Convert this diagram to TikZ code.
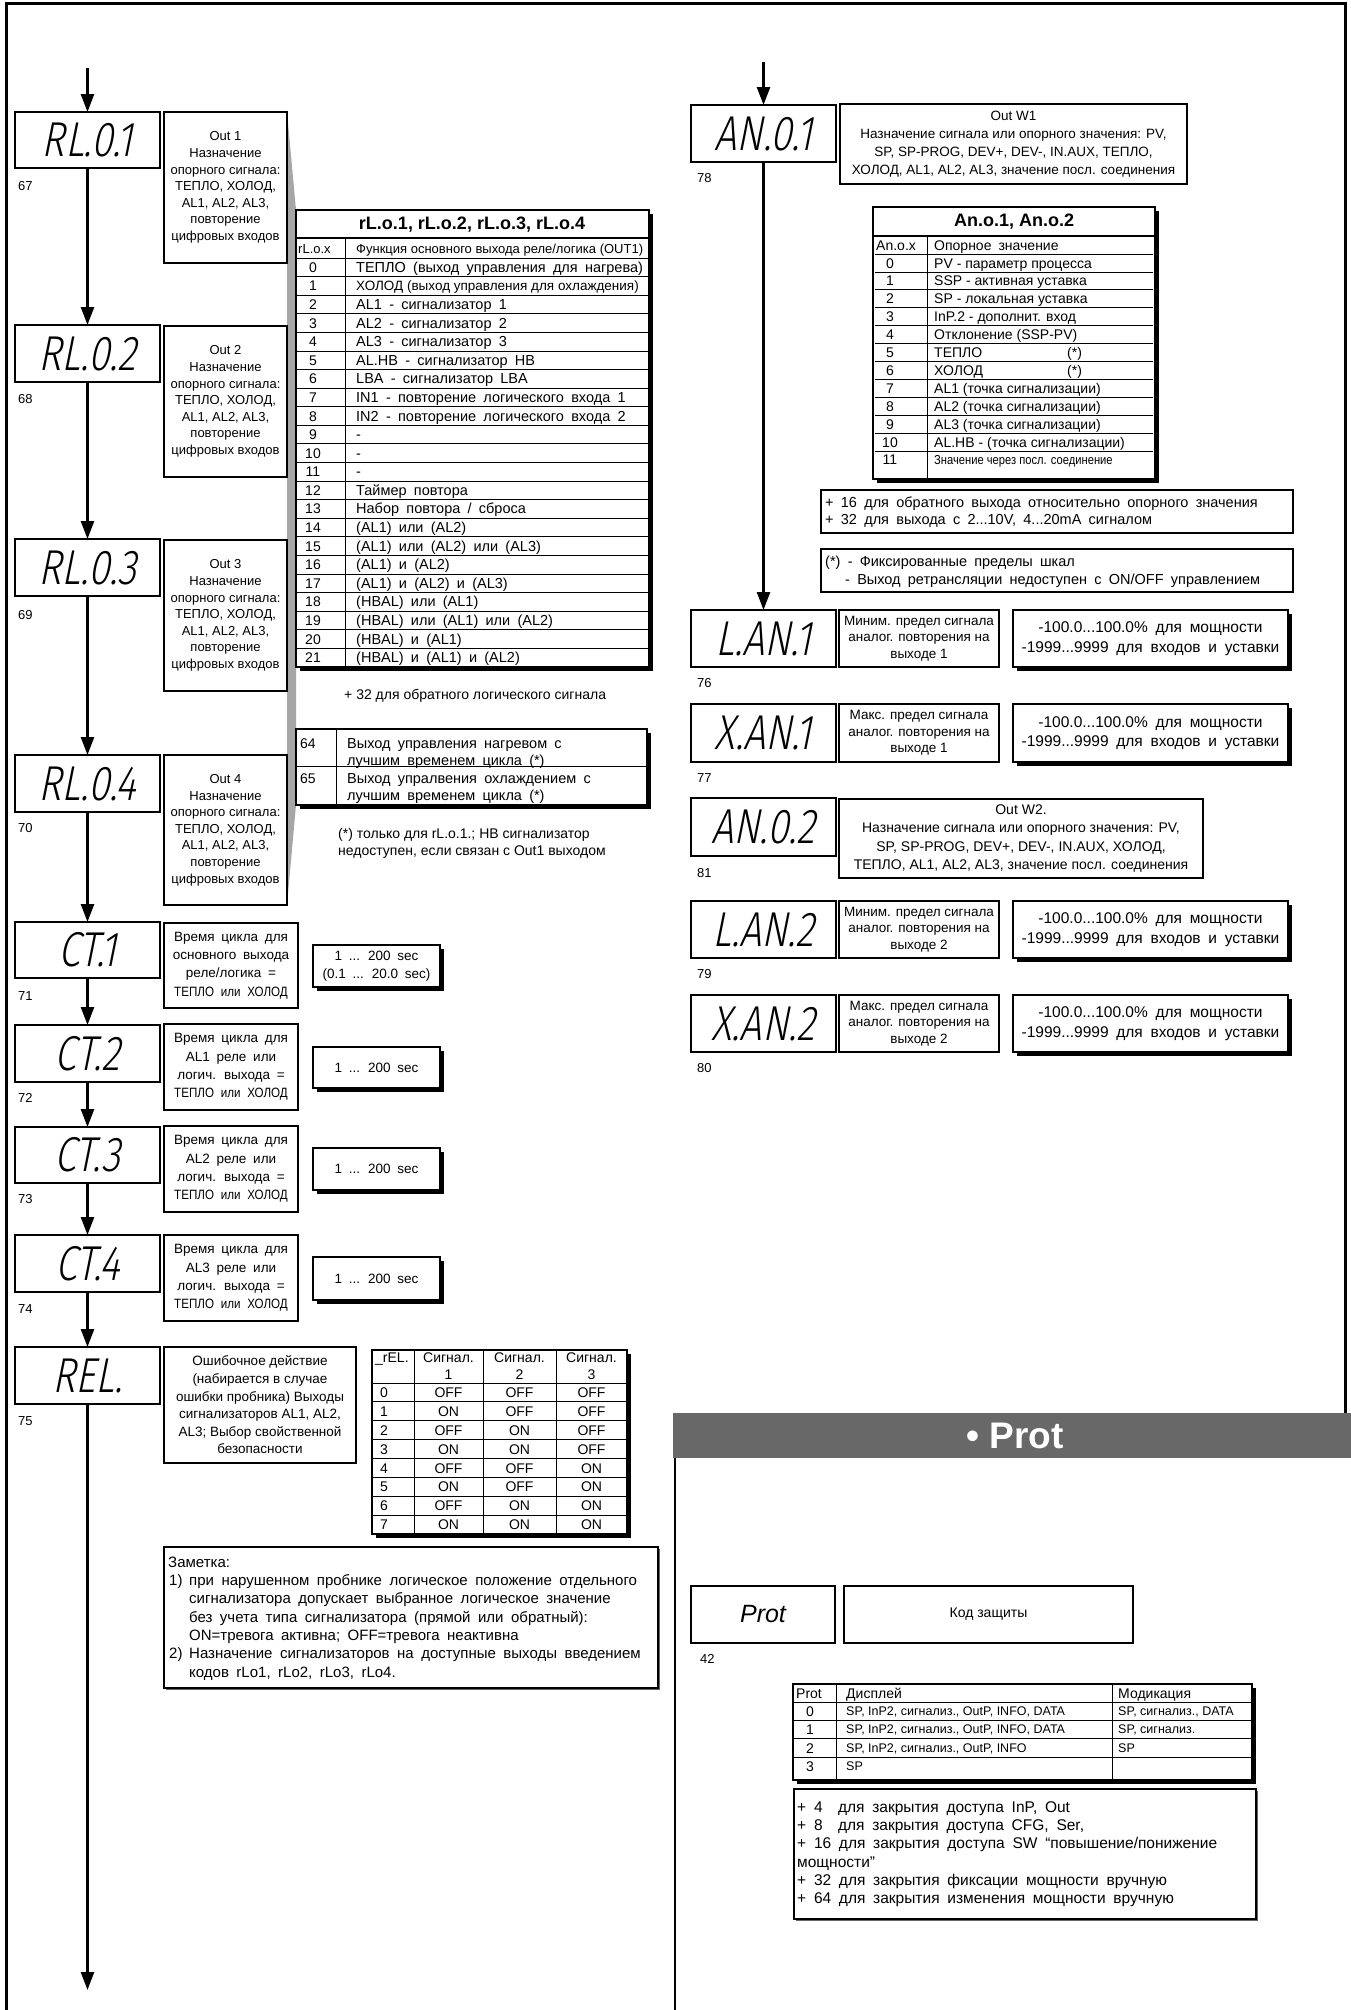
\documentclass[tikz,border=0pt]{standalone}
\usepackage{fontspec}
\setmainfont{Liberation Sans}
\newfontfamily\segfont[FakeSlant=0.2,FakeStretch=0.8]{Fira Sans Light}
\newfontfamily\nrwfont[FakeStretch=0.86]{Liberation Sans}
\usetikzlibrary{arrows.meta,shadows}
\pgfdeclarelayer{bg}
\pgfsetlayers{bg,main}
\newcommand{\fsz}[2]{\fontsize{#1}{#2}\selectfont\spaceskip=0pt\relax}
\newcommand{\fss}[2]{\fontsize{#1}{#2}\selectfont\spaceskip=0.5em plus 0.1em minus 0.05em\relax}
\newcommand{\bx}[7][]{\node[box,#1,minimum width={(#5)-(#3)},minimum height={(#6)-(#4)}] (#2) at ({(#3+#5)/2},{(#4+#6)/2}) {#7};}
\definecolor{gry}{HTML}{A6A6A6}
\definecolor{bargray}{HTML}{686868}
\tikzset{
 box/.style={draw,line width=1.2pt,fill=white,inner sep=0pt,outer sep=0pt,align=center},
 disp/.style={font=\segfont\fsz{49}{49}},
 t13/.style={font=\fsz{13}{16.6}},
 t14/.style={font=\fss{13.5}{18.3}},
 tl/.style={anchor=base west,inner sep=0pt},
 tc/.style={anchor=base,inner sep=0pt},
 flow/.style={line width=2.5pt,-{Triangle[length=18pt,width=13pt]}},
 shd/.style={drop shadow={shadow xshift=4pt,shadow yshift=-4pt,fill=black,opacity=1}},
 lshd/.style={drop shadow={shadow xshift=2pt,shadow yshift=-2pt,fill=black!60,opacity=1}},
 rule/.style={line width=0.9pt},
}
\newcommand{\rlrow}[3]{%
 \node[tc,font=\fsz{14}{14}] (rln#1) at (313,{258+18.59*(#1+0.5)+5}) {#2};%
 \node[tl,font=\fss{14.5}{14.5}] (rlt#1) at (356,{258+18.59*(#1+0.5)+5}) {#3};}
\newcommand{\anrow}[3]{%
 \node[tc,font=\fsz{14}{14}] (ann#1) at (890,{263+17.9*#1+5}) {#2};%
 \node[tl,font=\fsz{14}{14}] (ant#1) at (934,{263+17.9*#1+5}) {#3};}
\newcommand{\relrow}[4]{%
 \node[tl,font=\fsz{14}{14}] (reln#1) at (380,{1383+18.9*(#1+0.5)+5}) {#1};%
 \node[tc,font=\fsz{14}{14}] (rela#1) at (448.5,{1383+18.9*(#1+0.5)+5}) {#2};%
 \node[tc,font=\fsz{14}{14}] (relb#1) at (519.5,{1383+18.9*(#1+0.5)+5}) {#3};%
 \node[tc,font=\fsz{14}{14}] (relc#1) at (591.5,{1383+18.9*(#1+0.5)+5}) {#4};}
\newcommand{\prow}[3]{%
 \node[tc,font=\fsz{14}{14}] (prn#1) at (810,{1711+18.5*#1+5}) {#1};%
 \node[tl,font=\fsz{12.5}{12.5}] (prd#1) at (846,{1711+18.5*#1+4.4}) {#2};%
 \node[tl,font=\fsz{12.5}{12.5}] (prm#1) at (1118,{1711+18.5*#1+4.4}) {#3};}
\newcommand{\lanrow}[6]{%
 \bx[disp]{#1d}{691}{#2}{836}{#3}{#4}%
 \bx[font=\fsz{13.5}{16.5}]{#1s}{839}{#2}{999}{#3}{#5}%
 \bx[font=\fss{15.5}{19.5},shd]{#1v}{1013}{#2}{1288}{#3}{-100.0...100.0\% для мощности\\-1999...9999 для входов и уставки}%
 \begin{pgfonlayer}{bg}\fill[gry] (#1s.north east) rectangle (#1v.south west);\end{pgfonlayer}%
 \node[tl,font=\fsz{13}{13}] (#1l) at (697,{#3+20.6}) {#6};}
\begin{document}
\begin{tikzpicture}[x=1pt,y=-1pt]
\useasboundingbox (0,0) rectangle (1351,2010);
\fill[white] (0,0) rectangle (1351,2010);
% page frame
\draw[line width=3pt] (6,2010) -- (6,4) -- (1345,4) -- (1345,1413);
% gray strip at left of rL table
\fill[gry] (287,112) -- (296,210) -- (296,805) -- (287,905) -- cycle;

% ===== left column displays
\bx[disp]{rl1}{15}{112}{160}{168}{RL.0.1}
\bx[disp]{rl2}{15}{325}{160}{382}{RL.0.2}
\bx[disp]{rl3}{15}{539}{160}{596}{RL.0.3}
\bx[disp]{rl4}{15}{755}{160}{812}{RL.0.4}
\bx[disp]{ct1}{15}{922}{160}{978}{CT.1}
\bx[disp]{ct2}{15}{1025}{160}{1082}{CT.2}
\bx[disp]{ct3}{15}{1127}{160}{1183}{CT.3}
\bx[disp]{ct4}{15}{1235}{160}{1292}{CT.4}
\bx[disp]{rel}{15}{1347}{160}{1404}{REL.}
\node[tl,font=\fsz{13}{13}] (l67) at (18,190) {67};
\node[tl,font=\fsz{13}{13}] (l68) at (18,403) {68};
\node[tl,font=\fsz{13}{13}] (l69) at (18,619) {69};
\node[tl,font=\fsz{13}{13}] (l70) at (18,832) {70};
\node[tl,font=\fsz{13}{13}] (l71) at (18,1000) {71};
\node[tl,font=\fsz{13}{13}] (l72) at (18,1102) {72};
\node[tl,font=\fsz{13}{13}] (l73) at (18,1203) {73};
\node[tl,font=\fsz{13}{13}] (l74) at (18,1313) {74};
\node[tl,font=\fsz{13}{13}] (l75) at (18,1425) {75};
\coordinate (ltop) at (87.5,68);
\coordinate (lbot) at (87.5,1990);
\draw[flow] (ltop) -- (rl1);
\draw[flow] (rl1) -- (rl2);
\draw[flow] (rl2) -- (rl3);
\draw[flow] (rl3) -- (rl4);
\draw[flow] (rl4) -- (ct1);
\draw[flow] (ct1) -- (ct2);
\draw[flow] (ct2) -- (ct3);
\draw[flow] (ct3) -- (ct4);
\draw[flow] (ct4) -- (rel);
\draw[flow] (rel) -- (lbot);

% Out boxes
\bx[t13]{o1}{164}{112}{287}{263}{Out 1\\Назначение\\опорного сигнала:\\ТЕПЛО, ХОЛОД,\\AL1, AL2, AL3,\\повторение\\цифровых входов}
\bx[t13]{o2}{164}{326}{287}{477}{Out 2\\Назначение\\опорного сигнала:\\ТЕПЛО, ХОЛОД,\\AL1, AL2, AL3,\\повторение\\цифровых входов}
\bx[t13]{o3}{164}{540}{287}{691}{Out 3\\Назначение\\опорного сигнала:\\ТЕПЛО, ХОЛОД,\\AL1, AL2, AL3,\\повторение\\цифровых входов}
\bx[t13]{o4}{164}{755}{287}{905}{Out 4\\Назначение\\опорного сигнала:\\ТЕПЛО, ХОЛОД,\\AL1, AL2, AL3,\\повторение\\цифровых входов}

% CT descriptions and values
\bx[t14]{cd1}{164}{923}{298}{1008}{Время цикла для\\основного выхода\\реле/логика =\\{\nrwfont ТЕПЛО или ХОЛОД}}
\bx[t14]{cd2}{164}{1024}{298}{1110}{Время цикла для\\AL1 реле или\\логич. выхода =\\{\nrwfont ТЕПЛО или ХОЛОД}}
\bx[t14]{cd3}{164}{1126}{298}{1212}{Время цикла для\\AL2 реле или\\логич. выхода =\\{\nrwfont ТЕПЛО или ХОЛОД}}
\bx[t14]{cd4}{164}{1235}{298}{1321}{Время цикла для\\AL3 реле или\\логич. выхода =\\{\nrwfont ТЕПЛО или ХОЛОД}}
\bx[t14,shd]{cv1}{313}{945}{440}{987}{1 ... 200 sec\\(0.1 ... 20.0 sec)}
\bx[t14,shd]{cv2}{313}{1047}{440}{1088}{1 ... 200 sec}
\bx[t14,shd]{cv3}{313}{1148}{440}{1190}{1 ... 200 sec}
\bx[t14,shd]{cv4}{313}{1257}{440}{1300}{1 ... 200 sec}
\begin{pgfonlayer}{bg}
\foreach \k in {1,2,3,4}{
 \fill[gry] (cd\k.north east) -- (cv\k.north west) -- (cv\k.south west) -- (cd\k.south east) -- cycle;}
\end{pgfonlayer}

% ===== rL table
\bx[shd]{rlt}{296}{210}{649}{667}{}
\node[tc,font=\bfseries\fsz{18}{18}] (rltitle) at (472,229.5) {rL.o.1, rL.o.2, rL.o.3, rL.o.4};
\draw[line width=1.2pt] (296,238) -- (649,238);
\draw[line width=1pt] (345,238) -- (345,667);
\draw[rule] (296,258) -- (649,258);
\foreach \i in {1,...,21}{\draw[rule] (296,{258+18.59*\i}) -- (649,{258+18.59*\i});}
\node[tl,font=\fsz{13}{13}] (rlhx) at (298,253.7) {rL.o.x};
\node[tl,font=\fsz{13}{13}] (rlhf) at (356,253.7) {Функция основного выхода реле/логика (OUT1)};
\rlrow{0}{0}{ТЕПЛО (выход управления для нагрева)}
\rlrow{1}{1}{{\fsz{13.5}{13.5}ХОЛОД (выход управления для охлаждения)}}
\rlrow{2}{2}{AL1 - сигнализатор 1}
\rlrow{3}{3}{AL2 - сигнализатор 2}
\rlrow{4}{4}{AL3 - сигнализатор 3}
\rlrow{5}{5}{AL.HB - сигнализатор HB}
\rlrow{6}{6}{LBA - сигнализатор LBA}
\rlrow{7}{7}{IN1 - повторение логического входа 1}
\rlrow{8}{8}{IN2 - повторение логического входа 2}
\rlrow{9}{9}{-}
\rlrow{10}{10}{-}
\rlrow{11}{11}{-}
\rlrow{12}{12}{Таймер повтора}
\rlrow{13}{13}{Набор повтора / сброса}
\rlrow{14}{14}{(AL1) или (AL2)}
\rlrow{15}{15}{(AL1) или (AL2) или (AL3)}
\rlrow{16}{16}{(AL1) и (AL2)}
\rlrow{17}{17}{(AL1) и (AL2) и (AL3)}
\rlrow{18}{18}{(HBAL) или (AL1)}
\rlrow{19}{19}{(HBAL) или (AL1) или (AL2)}
\rlrow{20}{20}{(HBAL) и (AL1)}
\rlrow{21}{21}{(HBAL) и (AL1) и (AL2)}
\node[tl,font=\fsz{14}{14}] (plus32) at (344,699) {+ 32 для обратного логического сигнала};

\bx[shd]{rlt2}{296}{729}{647}{805}{}
\draw[line width=1pt] (336,729) -- (336,805);
\draw[rule] (296,766) -- (647,766);
\node[tl,font=\fsz{14}{14}] (n64) at (300,748) {64};
\node[tl,font=\fss{14.5}{14.5}] (t64a) at (347,748) {Выход управления нагревом с};
\node[tl,font=\fss{14.5}{14.5}] (t64b) at (347,765) {лучшим временем цикла (*)};
\node[tl,font=\fsz{14}{14}] (n65) at (300,783) {65};
\node[tl,font=\fss{14.5}{14.5}] (t65a) at (347,783) {Выход упралвения охлаждением с};
\node[tl,font=\fss{14.5}{14.5}] (t65b) at (347,800) {лучшим временем цикла (*)};
\node[tl,font=\fsz{14}{14}] (fn1) at (338,838) {(*) только для rL.o.1.; HB сигнализатор};
\node[tl,font=\fsz{14}{14}] (fn2) at (338,855) {недоступен, если связан с Out1 выходом};

% ===== REL
\bx[font=\fsz{13.5}{17.6}]{rd}{164}{1347}{356}{1463}{Ошибочное действие\\(набирается в случае\\ошибки пробника) Выходы\\сигнализаторов AL1, AL2,\\AL3; Выбор свойственной\\безопасности}
\bx[shd]{rt}{372}{1350}{627}{1534}{}
\begin{pgfonlayer}{bg}
\fill[gry] (rd.north east) -- (rt.north west) -- (372,1512) -- (rd.south east) -- cycle;
\end{pgfonlayer}
\draw[line width=1pt] (414,1350) -- (414,1534);
\draw[line width=1pt] (483,1350) -- (483,1534);
\draw[line width=1pt] (556,1350) -- (556,1534);
\draw[rule] (372,1383) -- (627,1383);
\foreach \i in {1,...,7}{\draw[rule] (372,{1383+18.9*\i}) -- (627,{1383+18.9*\i});}
\node[tl,font=\fsz{14}{14}] (relh0) at (375,1362) {\_rEL.};
\node[tc,font=\fsz{14}{14}] (relh1) at (448.5,1362) {Сигнал.};
\node[tc,font=\fsz{14}{14}] (relh2) at (519.5,1362) {Сигнал.};
\node[tc,font=\fsz{14}{14}] (relh3) at (591.5,1362) {Сигнал.};
\node[tc,font=\fsz{14}{14}] (relh1b) at (448.5,1379) {1};
\node[tc,font=\fsz{14}{14}] (relh2b) at (519.5,1379) {2};
\node[tc,font=\fsz{14}{14}] (relh3b) at (591.5,1379) {3};
\relrow{0}{OFF}{OFF}{OFF}
\relrow{1}{ON}{OFF}{OFF}
\relrow{2}{OFF}{ON}{OFF}
\relrow{3}{ON}{ON}{OFF}
\relrow{4}{OFF}{OFF}{ON}
\relrow{5}{ON}{OFF}{ON}
\relrow{6}{OFF}{ON}{ON}
\relrow{7}{ON}{ON}{ON}
\bx[lshd]{rn}{164}{1547}{658}{1688}{}
\node[tl,font=\fss{15}{15}] (rn0) at (168,1567) {Заметка:};
\node[tl,font=\fss{15}{15}] (rn1n) at (169,1585) {1)};
\node[tl,font=\fss{15}{15}] (rn1) at (189,1585) {при нарушенном пробнике логическое положение отдельного};
\node[tl,font=\fss{15}{15}] (rn2) at (189,1603) {сигнализатора допускает выбранное логическое значение};
\node[tl,font=\fss{15}{15}] (rn3) at (189,1622) {без учета типа сигнализатора (прямой или обратный):};
\node[tl,font=\fss{15}{15}] (rn4) at (189,1640) {ON=тревога активна; OFF=тревога неактивна};
\node[tl,font=\fss{15}{15}] (rn5n) at (169,1658) {2)};
\node[tl,font=\fss{15}{15}] (rn5) at (189,1658) {Назначение сигнализаторов на доступные выходы введением};
\node[tl,font=\fss{15}{15}] (rn6) at (189,1677) {кодов rLo1, rLo2, rLo3, rLo4.};

% ===== right page: analog outputs
\bx[disp]{an1}{691}{105}{836}{162}{AN.0.1}
\node[tl,font=\fsz{13}{13}] (l78) at (697,182) {78};
\coordinate (rtop) at (763.5,62);
\draw[flow] (rtop) -- (an1);
\bx[font=\fsz{13.5}{18}]{w1}{840}{104}{1187}{184}{Out W1\\Назначение сигнала или опорного значения: PV,\\SP, SP-PROG, DEV+, DEV-, IN.AUX, ТЕПЛО,\\ХОЛОД, AL1, AL2, AL3, значение посл. соединения}
\bx[shd]{at}{873}{207}{1155}{479}{}
\begin{pgfonlayer}{bg}
\fill[gry] (w1.south west) -- (w1.south east) -- (at.north east) -- (at.north west) -- cycle;
\end{pgfonlayer}
\node[tc,font=\bfseries\fsz{18}{18}] (attitle) at (1014,226) {An.o.1, An.o.2};
\draw[line width=1.2pt] (873,236) -- (1155,236);
\draw[line width=1pt] (927,236) -- (927,479);
\draw[rule] (875,254) -- (1153,254);
\foreach \i in {0,...,10}{\draw[rule] (875,{272+17.9*\i}) -- (1153,{272+17.9*\i});}
\node[tl,font=\fsz{14}{14}] (anhx) at (876,250) {An.o.x};
\node[tl,font=\fss{14}{14}] (anhf) at (934,250) {Опорное значение};
\anrow{0}{0}{PV - параметр процесса}
\anrow{1}{1}{SSP - активная уставка}
\anrow{2}{2}{SP - локальная уставка}
\anrow{3}{3}{InP.2 - дополнит. вход}
\anrow{4}{4}{Отклонение (SSP-PV)}
\anrow{5}{5}{ТЕПЛО}
\anrow{6}{6}{ХОЛОД}
\anrow{7}{7}{AL1 (точка сигнализации)}
\anrow{8}{8}{AL2 (точка сигнализации)}
\anrow{9}{9}{AL3 (точка сигнализации)}
\anrow{10}{10}{AL.HB - (точка сигнализации)}
\anrow{11}{11}{{\nrwfont\fsz{13}{13}Значение через посл. соединение}}
\node[tl,font=\fsz{14}{14}] (ast5) at (1067,{263+17.9*5+5}) {(*)};
\node[tl,font=\fsz{14}{14}] (ast6) at (1067,{263+17.9*6+5}) {(*)};
\bx{ann1}{821}{490}{1293}{533}{}
\node[tl,font=\fss{14.5}{14.5}] (ann1a) at (825,507) {+ 16 для обратного выхода относительно опорного значения};
\node[tl,font=\fss{14.5}{14.5}] (ann1b) at (825,524) {+ 32 для выхода с 2...10V, 4...20mA сигналом};
\bx{ann2}{821}{549}{1293}{592}{}
\node[tl,font=\fss{14.5}{14.5}] (ann2a) at (825,566) {(*) - Фиксированные пределы шкал};
\node[tl,font=\fss{14.5}{14.5}] (ann2b) at (845,584) {- Выход ретрансляции недоступен с ON/OFF управлением};

\lanrow{lana}{610}{667}{L.AN.1}{Миним. предел сигнала\\аналог. повторения на\\выходе 1}{76}
\lanrow{xana}{704}{762}{X.AN.1}{Макс. предел сигнала\\аналог. повторения на\\выходе 1}{77}
\lanrow{lanb}{901}{958}{L.AN.2}{Миним. предел сигнала\\аналог. повторения на\\выходе 2}{79}
\lanrow{xanb}{995}{1052}{X.AN.2}{Макс. предел сигнала\\аналог. повторения на\\выходе 2}{80}
\draw[flow] (an1) -- (lanad);
\bx[disp]{an2}{691}{798}{836}{856}{AN.0.2}
\node[tl,font=\fsz{13}{13}] (l81) at (697,877) {81};
\bx[font=\fsz{14}{18.3}]{w2}{839}{799}{1203}{878}{Out W2.\\Назначение сигнала или опорного значения: PV,\\SP, SP-PROG, DEV+, DEV-, IN.AUX, ХОЛОД,\\ТЕПЛО, AL1, AL2, AL3, значение посл. соединения}

% ===== Prot
\bx[draw=none,fill=bargray]{pbar}{673}{1413}{1351}{1458}{}
\node[font=\bfseries\fsz{37}{37},text=white,inner sep=0pt] (pbart) at (1015,1436) {• Prot};
\draw[line width=1.5pt] (675,1458) -- (675,2010);
\bx[font=\itshape\fsz{25}{25}]{prot}{691}{1586}{835}{1643}{Prot}
\node[tl,font=\fsz{13}{13}] (l42) at (700,1663) {42};
\bx[font=\fsz{14}{14}]{kod}{844}{1586}{1133}{1643}{Код защиты}
\bx[shd]{pt}{793}{1684}{1252}{1780}{}
\begin{pgfonlayer}{bg}
\fill[gry] (kod.south west) -- (kod.south east) -- (pt.north east) -- (pt.north west) -- cycle;
\end{pgfonlayer}
\draw[line width=1pt] (836,1684) -- (836,1780);
\draw[line width=1pt] (1112,1684) -- (1112,1780);
\draw[rule] (793,1702) -- (1252,1702);
\draw[rule] (793,1720) -- (1252,1720);
\draw[rule] (793,1738) -- (1252,1738);
\draw[rule] (793,1757) -- (1252,1757);
\node[tl,font=\fsz{14}{14}] (ph0) at (796,1698) {Prot};
\node[tl,font=\fsz{14}{14}] (ph1) at (846,1698) {Дисплей};
\node[tl,font=\fsz{14}{14}] (ph2) at (1118,1698) {Модикация};
\prow{0}{SP, InP2, сигнализ., OutP, INFO, DATA}{SP, сигнализ., DATA}
\prow{1}{SP, InP2, сигнализ., OutP, INFO, DATA}{SP, сигнализ.}
\prow{2}{SP, InP2, сигнализ., OutP, INFO}{SP}
\prow{3}{SP}{}
\bx[lshd]{pn}{794}{1789}{1256}{1919}{}
\node[tl,font=\fss{15.5}{15.5}] (pn1) at (797,1812) {+ 4~~для закрытия доступа InP, Out};
\node[tl,font=\fss{15.5}{15.5}] (pn2) at (797,1830) {+ 8~~для закрытия доступа CFG, Ser,};
\node[tl,font=\fss{15.5}{15.5}] (pn3) at (797,1848) {+ 16 для закрытия доступа SW “повышение/понижение};
\node[tl,font=\fss{15.5}{15.5}] (pn4) at (797,1867) {мощности”};
\node[tl,font=\fss{15.5}{15.5}] (pn5) at (797,1885) {+ 32 для закрытия фиксации мощности вручную};
\node[tl,font=\fss{15.5}{15.5}] (pn6) at (797,1903) {+ 64 для закрытия изменения мощности вручную};
\end{tikzpicture}
\end{document}
